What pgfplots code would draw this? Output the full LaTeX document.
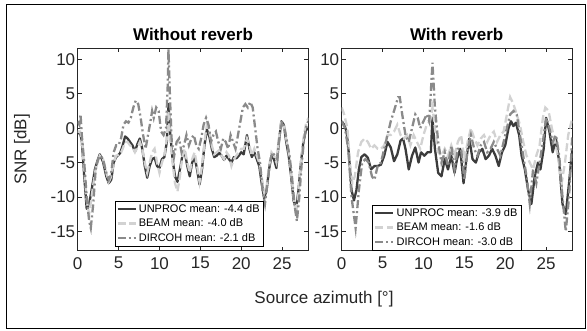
\documentclass[border=0pt]{standalone}
\usepackage{fontspec}
\setmainfont{Liberation Sans}
\usepackage{pgfplots}
\pgfplotsset{compat=1.18}
\definecolor{cUnproc}{HTML}{3C3C3C}
\definecolor{cBeam}{HTML}{D2D2D2}
\definecolor{cDir}{HTML}{8A8A8A}
\definecolor{axc}{HTML}{262626}
\pgfplotsset{
  panel/.style={
    scale only axis, width=230.6pt, height=202.4pt,
    xmin=0, xmax=28.2, ymin=-17.8, ymax=11.6,
    xtick={0,5,10,15,20,25}, ytick={-15,-10,-5,0,5,10},
    tick align=inside, major tick length=4pt,
    axis line style={axc, line width=0.8pt},
    tick style={axc, line width=0.6pt},
    ticklabel style={font=\fontsize{17}{19}\selectfont, text=axc},
    /pgf/number format/assume math mode=true,
    xticklabel style={yshift=-3pt},
    yticklabel style={xshift=1pt},
    legend style={font=\fontsize{11}{13}\selectfont, draw=black, line width=0.7pt,
      inner sep=1.5pt, row sep=1pt, cells={anchor=west}},
    legend image code/.code={\draw[##1] (0pt,0pt) -- (18pt,0pt);},
    legend cell align=left,
  },
  unp/.style={cUnproc, line width=2.3pt, line join=round},
  beam/.style={cBeam, line width=2.3pt, dash pattern=on 8pt off 3.5pt},
  dir/.style={cDir, line width=2.3pt, dash pattern=on 8pt off 3pt on 2pt off 3pt},
}
\begin{document}
\begin{tikzpicture}[x=1pt,y=1pt]
\path[use as bounding box] (0,0) rectangle (587,330);
\draw[black, line width=1pt] (6,2) rectangle (585,325);

\begin{axis}[panel, at={(77.7pt,79.3pt)}, anchor=south west,
  legend style={at={(0.483,0.02)}, anchor=south}]
\addplot[unp] coordinates {(0,-0.7)(0.3,-0.8)(0.5,-1.8)(0.8,-7)(1.1,-11.7)(1.4,-11)(1.7,-9)(2.1,-6)(2.4,-4.8)(2.7,-3.8)(3.1,-4.9)(3.5,-7)(3.8,-8)(4.1,-7.5)(4.4,-5)(4.7,-4.2)(5.2,-3.6)(5.5,-2.5)(5.8,-1.2)(6.1,-1.5)(6.4,-2)(6.7,-2.5)(7.0,-3.4)(7.3,-2.3)(7.6,-1.5)(7.9,-3)(8.2,-5.5)(8.5,-7.2)(8.8,-5.5)(9.1,-4.5)(9.4,-4.3)(9.7,-5.5)(10.0,-5.8)(10.3,-4.5)(10.6,-4.2)(10.9,-2)(11.1,3.5)(11.3,-0.5)(11.6,-4.5)(11.9,-7)(12.2,-7.8)(12.5,-6)(12.8,-4)(13.1,-3.5)(13.4,-5.5)(13.7,-7)(14.0,-5)(14.3,-4.2)(14.6,-6)(14.9,-8.2)(15.2,-6)(15.5,-2.5)(15.8,-0.2)(16.1,-1.2)(16.4,-3)(16.7,-4.2)(17.0,-4)(17.3,-3.6)(17.6,-4)(17.9,-4.6)(18.2,-4)(18.5,-4.5)(18.8,-5)(19.1,-4.2)(19.4,-4.4)(19.7,-4)(20.0,-3.5)(20.3,-3.8)(20.7,-1)(21.0,-3)(21.3,-4.2)(21.6,-3.5)(21.9,-4.5)(22.2,-5.5)(22.5,-8)(22.8,-10.2)(23.1,-9)(23.4,-6)(23.7,-4)(24.0,-4.5)(24.3,-5.8)(24.6,-2)(24.9,1)(25.2,0.5)(25.5,-2)(25.8,-4)(26.1,-7)(26.4,-10.5)(26.7,-11.8)(27.0,-9)(27.3,-5)(27.6,-2)(27.9,-0.3)(28.2,0)};
\addlegendentry{UNPROC mean: -4.4 dB}
\addplot[beam] coordinates {(0,-0.5)(0.3,-0.5)(0.5,-1.5)(0.8,-6)(1.1,-10.5)(1.4,-12.5)(1.7,-10)(2.1,-6.5)(2.4,-5)(2.7,-4)(3.1,-4.5)(3.5,-6.5)(3.8,-7.8)(4.1,-7)(4.4,-5)(4.7,-4)(5.2,-3.8)(5.5,-3)(5.8,-2)(6.1,-2)(6.4,-2.5)(6.7,-2.8)(7.0,-3.5)(7.3,-2.8)(7.6,-2)(7.9,-3)(8.2,-5)(8.5,-6.5)(8.8,-5)(9.1,-3.5)(9.4,-3)(9.7,-5)(10.0,-6.5)(10.3,-5)(10.6,-4)(10.9,-1.5)(11.1,2.5)(11.3,-1)(11.6,-5)(11.9,-8)(12.2,-9.2)(12.5,-7)(12.8,-4)(13.1,-3)(13.4,-5)(13.7,-6.5)(14.0,-4.5)(14.3,-3.5)(14.6,-5.5)(14.9,-7.8)(15.2,-5.5)(15.5,-2)(15.8,0.5)(16.1,-0.5)(16.4,-2.5)(16.7,-3.8)(17.0,-3.5)(17.3,-3.2)(17.6,-4)(17.9,-4.5)(18.2,-3.5)(18.5,-4)(18.8,-5.5)(19.1,-4.5)(19.4,-4)(19.7,-3.5)(20.0,-3)(20.3,-3)(20.7,-1.5)(21.0,-2.5)(21.3,-4)(21.6,-3)(21.9,-4)(22.2,-5)(22.5,-7)(22.8,-9.5)(23.1,-8.5)(23.4,-5.5)(23.7,-3.5)(24.0,-4)(24.3,-5)(24.6,-1.5)(24.9,0.8)(25.2,0.5)(25.5,-1.5)(25.8,-3.5)(26.1,-6.5)(26.4,-10)(26.7,-12.5)(27.0,-9.5)(27.3,-5)(27.6,-1.5)(27.9,0.5)(28.2,1.5)};
\addlegendentry{BEAM mean: -4.0 dB}
\addplot[dir] coordinates {(0,1)(0.2,0.5)(0.35,2)(0.5,-1)(0.8,-5)(1.1,-10)(1.4,-13.5)(1.6,-14.5)(1.9,-11)(2.2,-6)(2.5,-4.5)(2.8,-4)(3.1,-4.5)(3.5,-6.5)(3.8,-7.5)(4.1,-6.5)(4.4,-3.5)(4.7,-2.5)(5.0,-2.5)(5.3,-1.5)(5.6,0.5)(5.9,1)(6.2,0.8)(6.5,1.5)(6.8,3)(7.1,4)(7.4,3.5)(7.7,1.5)(8.0,-1)(8.3,-3)(8.6,-1)(8.9,1)(9.1,2.5)(9.3,1.5)(9.6,3)(9.9,2.5)(10.2,-0.5)(10.5,-1)(10.8,0)(11.0,6)(11.1,11.5)(11.3,4)(11.5,-2)(11.8,-4)(12.1,-2)(12.4,-1.5)(12.7,-3.5)(13.0,-2.5)(13.3,-1)(13.6,-2.5)(13.9,-1.5)(14.2,-1)(14.5,-2.5)(14.8,-3)(15.1,-1.5)(15.4,0.5)(15.7,1.5)(16.0,0.5)(16.3,-2)(16.6,-1)(16.9,-0.5)(17.2,-2)(17.5,-3)(17.8,-1.5)(18.1,-2)(18.4,-3)(18.7,-1)(19.0,-2)(19.3,-3)(19.6,-1)(19.9,1)(20.2,3)(20.5,3.5)(20.8,3)(21.1,3.8)(21.4,3)(21.7,0)(22.0,-3)(22.3,-5)(22.6,-9)(22.9,-11)(23.2,-8)(23.5,-5)(23.8,-3.5)(24.1,-4)(24.4,-4.5)(24.7,-1)(25.0,1)(25.3,0)(25.6,-2)(25.9,-4)(26.2,-7)(26.5,-11)(26.8,-13.5)(27.1,-10)(27.4,-5)(27.7,-1.5)(28.0,0.5)(28.2,1)};
\addlegendentry{DIRCOH mean: -2.1 dB}
\end{axis}

\begin{axis}[panel, at={(341.7pt,79.3pt)}, anchor=south west,
  legend style={at={(0.456,0.0)}, anchor=south}]
\addplot[unp] coordinates {(0,1)(0.3,0.5)(0.6,-0.5)(0.9,-4)(1.2,-9)(1.5,-10.5)(1.8,-9)(2.1,-6)(2.4,-4.2)(2.8,-3.8)(3.2,-4.3)(3.6,-6)(4.0,-5.5)(4.4,-5.5)(4.8,-5.3)(5.2,-4)(5.6,-2)(6.0,-2.8)(6.4,-4.8)(6.8,-3.8)(7.2,-1.8)(7.5,-1.5)(7.8,-3)(8.2,-6)(8.6,-4)(9.0,-2.8)(9.4,-5)(9.7,-3.5)(10.1,-4)(10.5,-3.5)(10.9,-3.5)(11.1,1.5)(11.4,-3)(11.8,-6.5)(12.2,-7)(12.6,-4.5)(13.0,-6)(13.4,-4)(13.8,-6.5)(14.1,-4.5)(14.5,-3)(14.9,-8)(15.3,-4)(15.6,-1.5)(16.0,-4.5)(16.4,-5)(16.8,-3.5)(17.2,-3)(17.6,-4.5)(18.0,-4)(18.4,-3)(18.8,-4)(19.2,-5.5)(19.6,-3.5)(20.0,-2.5)(20.4,0)(20.7,1)(21.0,0.3)(21.3,0.8)(21.7,-1)(22.0,-4)(22.4,-6)(22.8,-9)(23.2,-11)(23.6,-7)(24.0,-5)(24.3,-6)(24.7,-3)(25.0,1.5)(25.4,-0.5)(25.8,-3.5)(26.2,-1.5)(26.6,-5)(27.0,-11)(27.4,-12.5)(27.8,-8)(28.2,-3)};
\addlegendentry{UNPROC mean: -3.9 dB}
\addplot[beam] coordinates {(0,3)(0.3,2)(0.7,0)(1.0,-5)(1.3,-8)(1.6,-7)(2.0,-3.5)(2.4,-2)(2.8,-1.5)(3.2,-2)(3.6,-3)(4.0,-2.5)(4.4,-3)(4.8,-3)(5.2,-2.5)(5.6,-1)(6.0,-1)(6.4,-0.5)(6.8,0.5)(7.2,-1)(7.6,-1.5)(8.0,-1)(8.4,-2.5)(8.8,-1)(9.2,-2)(9.6,-3)(10.0,-1)(10.4,0.5)(10.8,1)(11.1,3)(11.4,0)(11.8,-3.5)(12.2,-4)(12.6,-3)(13.0,-4)(13.4,-2.5)(13.8,-4)(14.2,-2)(14.6,-1)(15.0,-4.5)(15.4,-2)(15.8,0)(16.2,-1.5)(16.6,-2.5)(17.0,-1.5)(17.4,-1)(17.8,-2)(18.2,-1)(18.6,-0.5)(19.0,-2)(19.4,-1)(19.8,-0.5)(20.2,2)(20.6,4.5)(21.0,3.5)(21.4,2)(21.8,0.5)(22.2,-2)(22.6,-4)(23.0,-5)(23.4,-6)(23.8,-4)(24.2,-2.5)(24.6,1.5)(24.9,3)(25.3,2.5)(25.7,0)(26.1,-2)(26.5,-4.5)(26.9,-8)(27.3,-5)(27.7,-1)(28.2,1.5)};
\addlegendentry{BEAM mean: -1.6 dB}
\addplot[dir] coordinates {(0,1)(0.4,0)(0.8,-3)(1.2,-10)(1.7,-14.5)(2.1,-9)(2.5,-5)(2.9,-4.5)(3.3,-5)(3.7,-7)(4.0,-7.5)(4.4,-5.5)(4.8,-5)(5.2,-3)(5.6,-1)(6.0,1)(6.4,2.5)(6.9,4.5)(7.1,4.5)(7.4,2)(7.8,-1)(8.2,-2)(8.6,0)(9.0,2)(9.3,1.5)(9.6,0)(10.0,1)(10.4,2)(10.7,1)(11.1,9.5)(11.4,3)(11.8,-2)(12.2,-5)(12.6,-3.5)(13.0,-5.5)(13.4,-2.5)(13.8,-6)(14.2,-3)(14.6,-3)(15.0,-7.5)(15.4,-3)(15.8,-1)(16.2,-3)(16.6,-4)(17.0,-2.5)(17.4,-2)(17.8,-3.5)(18.2,-3)(18.6,-2)(19.0,-3)(19.4,-4)(19.8,-2)(20.2,0)(20.6,2)(21.0,2.5)(21.4,2)(21.8,-1)(22.2,-4)(22.6,-7)(23.0,-11)(23.4,-6)(23.8,-8)(24.2,-5)(24.6,-2)(25.0,1.5)(25.4,0)(25.8,-2)(26.2,-1)(26.6,-4)(27.0,-10)(27.4,-15)(27.8,-10)(28.2,-1)};
\addlegendentry{DIRCOH mean: -3.0 dB}
\end{axis}

\node[font=\fontsize{17}{20}\selectfont\bfseries, text=black] at (193,296) {Without reverb};
\node[font=\fontsize{17}{20}\selectfont\bfseries, text=black] at (456.7,296) {With reverb};
\node[font=\fontsize{17}{20}\selectfont, text=axc, rotate=90] at (22,180.5) {SNR [dB]};
\node[font=\fontsize{17}{20}\selectfont, text=axc] at (324,31) {Source azimuth [°]};
\end{tikzpicture}
\end{document}
